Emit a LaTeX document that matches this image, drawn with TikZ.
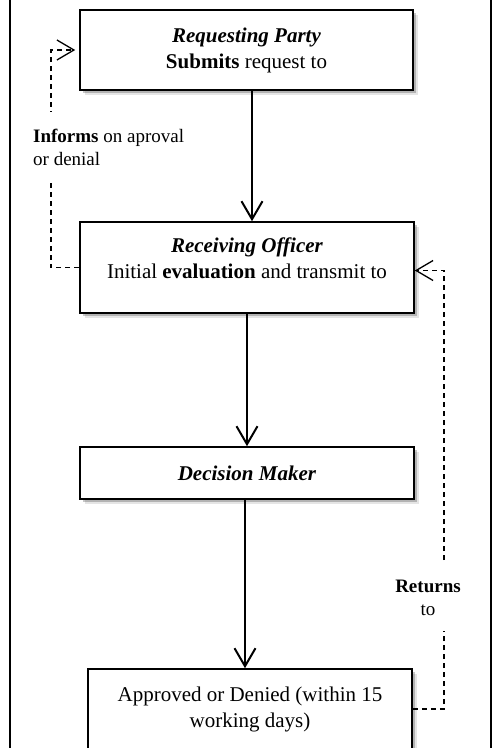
\documentclass[tikz,border=0pt]{standalone}
\usepackage{fontspec}
\setmainfont{Liberation Serif}
\usetikzlibrary{arrows.meta,shadows}
\begin{document}
\begin{tikzpicture}[x=1pt,y=-1pt,
  box/.style={draw, line width=1.6pt, fill=white, rectangle, inner sep=0pt, align=center,
    font=\fontsize{21}{26}\selectfont,
    drop shadow={shadow xshift=4.5pt,shadow yshift=-4.5pt,opacity=0.10,fill=black},
    drop shadow={shadow xshift=2.5pt,shadow yshift=-2.5pt,opacity=0.22,fill=black}},
  boxtext/.style={align=center, inner sep=0pt, font=\fontsize{21}{26}\selectfont},
  flow/.style={line width=2pt, -{Straight Barb[length=18pt,width=21pt,line width=2pt]}},
  back/.style={line width=1.2pt, dash pattern=on 5pt off 4pt,
    -{Straight Barb[length=17pt,width=20pt,line width=1.3pt]}},
  lbl/.style={fill=white, font=\fontsize{19}{23}\selectfont, inner xsep=2pt}]
\useasboundingbox (0,0) rectangle (493,748);
% outer frame (only the sides show)
\draw[line width=1.5pt] (10,-5) -- (10,760) (491,-5) -- (491,760);
% boxes
\node[box, minimum width=333pt, minimum height=80pt] (rp) at (246.5,50)
  {\textbf{\textit{Requesting Party}}\\\textbf{Submits} request to};
\node[box, minimum width=334pt, minimum height=91pt] (ro) at (247,267.5) {};
\node[boxtext] (rot) at (247,258.5)
  {\textbf{\textit{Receiving Officer}}\\Initial \textbf{evaluation} and transmit to};
\node[box, minimum width=334pt, minimum height=52pt] (dm) at (247,473)
  {\textbf{\textit{Decision Maker}}};
\node[box, minimum width=324pt, minimum height=80pt] (ad) at (250,709)
  {Approved or Denied (within 15\\working days)};
% main flow
\draw[flow] ([xshift=5.5pt]rp.south) -- ([xshift=5pt]ro.north);
\draw[flow] (ro.south) -- (dm.north);
\draw[flow] ([xshift=-2pt]dm.south) -- ([xshift=-5pt]ad.north);
% feedback connectors
\coordinate (L) at (51,0);
\coordinate (R) at (444,0);
\coordinate (roE) at ([yshift=-3pt]ro.east);
\draw[back, shorten >=4pt] (ro.west) -- (ro.west -| L) -- (rp.west -| L) -- (rp.west);
\node[lbl, anchor=west, align=left, inner ysep=17pt] (inf) at (31,147.5)
  {\textbf{Informs} on aproval\\or denial};
\draw[back] (ad.east) -- (ad.east -| R) -- (roE -| R) -- (roE);
\node[lbl, align=center, inner ysep=15.5pt] (ret) at (428,597.5)
  {\textbf{Returns}\\to};
\end{tikzpicture}
\end{document}
